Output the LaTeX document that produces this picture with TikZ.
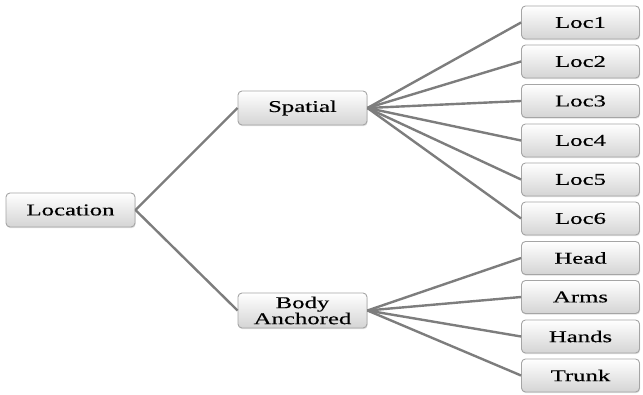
\documentclass[tikz,border=0pt]{standalone}
\usepackage{fontspec}
\setmainfont[FakeStretch=1.5, FakeBold=0.3]{Liberation Serif}
\usetikzlibrary{shadows}
\definecolor{linkgray}{RGB}{125,125,125}
\definecolor{boxedge}{RGB}{165,165,165}
\definecolor{boxlow}{RGB}{212,212,212}
\tikzset{
  box/.style={draw=boxedge, line width=0.9pt, rounded corners=4pt,
    top color=white, bottom color=boxlow, minimum height=34pt,
    inner sep=0pt, align=center, font=\fontsize{16.5}{12.5}\selectfont,
    drop shadow={shadow xshift=0.6pt, shadow yshift=-1.2pt, opacity=0.25}},
  midbox/.style={box, minimum width=129pt},
  leafbox/.style={box, minimum width=118pt, minimum height=33pt},
  link/.style={draw=linkgray, line width=2.4pt}
}
\begin{document}
\begin{tikzpicture}[x=1pt, y=-1pt]
  \useasboundingbox (0,0) rectangle (643,395);
  % root and second level
  \node[midbox] (loc) at (70.5,210) {Location};
  \node[midbox] (spa) at (302.5,108) {Spatial};
  \node[midbox, minimum height=35pt] (body) at (302.5,310.5) {Body\\Anchored};
  % leaves
  \foreach \n/\y in {1/22.5,2/61.5,3/101,4/140.5,5/179.5,6/218.5}
    \node[leafbox] (l\n) at (580.5,\y) {Loc\n};
  \node[leafbox] (head)  at (580.5,258) {Head};
  \node[leafbox] (arms)  at (580.5,297) {Arms};
  \node[leafbox] (hands) at (580.5,336.5) {Hands};
  \node[leafbox] (trunk) at (580.5,375.5) {Trunk};
  % connectors
  \draw[link] (loc.east) -- (spa.west);
  \draw[link] (loc.east) -- (body.west);
  \foreach \n in {1,...,6}
    \draw[link] (spa.east) -- (l\n.west);
  \foreach \n in {head,arms,hands,trunk}
    \draw[link] (body.east) -- (\n.west);
\end{tikzpicture}
\end{document}
